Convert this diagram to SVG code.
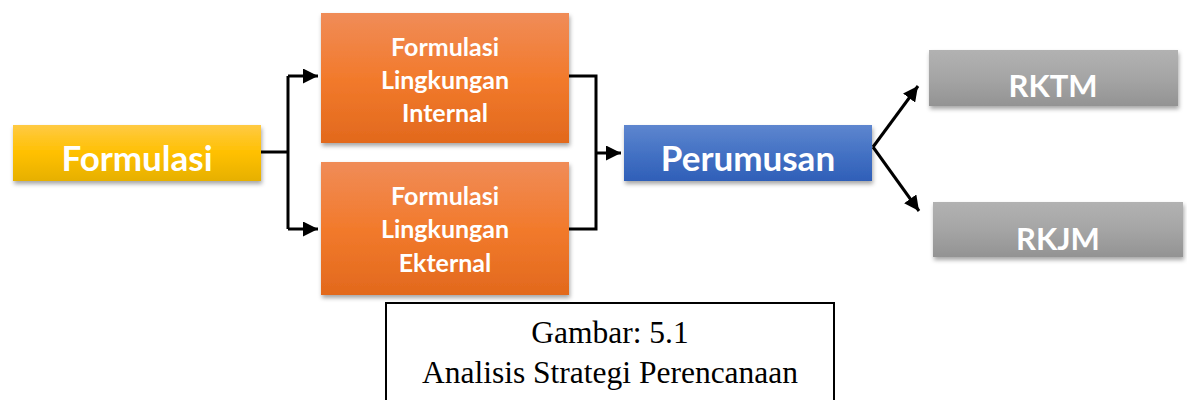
<svg xmlns="http://www.w3.org/2000/svg" width="1187" height="400" viewBox="0 0 1187 400">
<defs>
<linearGradient id="gY" x1="0" y1="0" x2="0" y2="1"><stop offset="0" stop-color="#FFCA44"/><stop offset="0.5" stop-color="#FFC000"/><stop offset="1" stop-color="#E6B000"/></linearGradient>
<linearGradient id="gO" x1="0" y1="0" x2="0" y2="1"><stop offset="0" stop-color="#F08C58"/><stop offset="0.5" stop-color="#F27A2C"/><stop offset="1" stop-color="#E2691D"/></linearGradient>
<linearGradient id="gB" x1="0" y1="0" x2="0" y2="1"><stop offset="0" stop-color="#5E86CF"/><stop offset="0.5" stop-color="#4472C4"/><stop offset="1" stop-color="#2F5FB8"/></linearGradient>
<linearGradient id="gG" x1="0" y1="0" x2="0" y2="1"><stop offset="0" stop-color="#B2B2B2"/><stop offset="0.5" stop-color="#A5A5A5"/><stop offset="1" stop-color="#939393"/></linearGradient>
<filter id="sh" x="-10%" y="-20%" width="120%" height="150%"><feDropShadow dx="1" dy="3" stdDeviation="2" flood-color="#000" flood-opacity="0.35"/></filter>
<marker id="ah" viewBox="0 0 10 10" refX="10" refY="5" markerWidth="5" markerHeight="5" orient="auto" markerUnits="strokeWidth"><path d="M0,0 L10,5 L0,10 z" fill="#000"/></marker>
<style>
.lbl{font-family:Lato,"Open Sans","Liberation Sans",sans-serif;font-weight:bold;fill:#fff;text-anchor:middle}
.big{font-size:35px}
.mid{font-size:25px}
.sm{font-size:31px}
.cap{font-family:"Liberation Serif","Times New Roman",serif;font-size:31.5px;fill:#000;text-anchor:middle}
.con{fill:none;stroke:#000;stroke-width:3}
</style>
</defs>
<g id="connectors">
<path class="con" d="M261,152 H288 M288,76 V229"/>
<path class="con" d="M288,76 H318" marker-end="url(#ah)"/>
<path class="con" d="M288,229 H318" marker-end="url(#ah)"/>
<path class="con" d="M569,76 H596 V229 H569"/>
<path class="con" d="M596,153 H621" marker-end="url(#ah)"/>
<path class="con" d="M873,147 L918,86" marker-end="url(#ah)"/>
<path class="con" d="M873,147 L919,211" marker-end="url(#ah)"/>
</g>
<g id="formulasi">
<rect x="13" y="125" width="248" height="56" fill="url(#gY)" filter="url(#sh)"/>
<text class="lbl big" x="137" y="171">Formulasi</text>
</g>
<g id="internal">
<rect x="321" y="13" width="248" height="130" fill="url(#gO)" filter="url(#sh)"/>
<text class="lbl mid" x="445" y="56">Formulasi</text>
<text class="lbl mid" x="445" y="89">Lingkungan</text>
<text class="lbl mid" x="445" y="122">Internal</text>
</g>
<g id="eksternal">
<rect x="321" y="162" width="248" height="133" fill="url(#gO)" filter="url(#sh)"/>
<text class="lbl mid" x="445" y="205">Formulasi</text>
<text class="lbl mid" x="445" y="238">Lingkungan</text>
<text class="lbl mid" x="445" y="272">Ekternal</text>
</g>
<g id="perumusan">
<rect x="624" y="125" width="248" height="56" fill="url(#gB)" filter="url(#sh)"/>
<text class="lbl big" x="748" y="171">Perumusan</text>
</g>
<g id="rktm">
<rect x="929" y="50" width="249" height="56" fill="url(#gG)" filter="url(#sh)"/>
<text class="lbl sm" x="1053" y="97">RKTM</text>
</g>
<g id="rkjm">
<rect x="933" y="202" width="250" height="55" fill="url(#gG)" filter="url(#sh)"/>
<text class="lbl sm" x="1058" y="250">RKJM</text>
</g>
<g id="caption">
<rect x="386" y="303" width="448" height="110" fill="#fff" stroke="#000" stroke-width="2"/>
<text class="cap" x="610" y="343">Gambar: 5.1</text>
<text class="cap" x="610" y="383">Analisis Strategi Perencanaan</text>
</g>
</svg>
